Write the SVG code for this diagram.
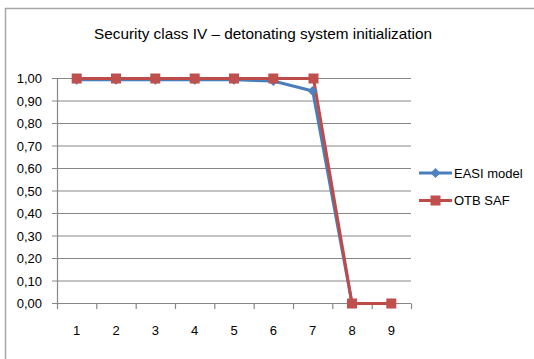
<svg xmlns="http://www.w3.org/2000/svg" width="534" height="359" viewBox="0 0 534 359">
<defs>
<style>
.t{font-family:"Liberation Sans",Arial,sans-serif;fill:#000;}
.ax{font-size:13px;}
.grid{stroke:#878787;stroke-width:1.2;fill:none;}
.blue{stroke:#4A7EBB;stroke-width:3;fill:none;stroke-linejoin:round;}
.red{stroke:#BE4B48;stroke-width:3;fill:none;stroke-linejoin:round;}
.sq{fill:#C0504D;}
.dm{fill:#4F81BD;}
</style>
<path id="diamond" d="M0,-5 L5,0 L0,5 L-5,0 Z"/>
</defs>
<rect x="0" y="0" width="534" height="359" fill="#fff"/>
<path d="M5.5,370 V8.5 H545" fill="none" stroke="#a6a6a6" stroke-width="1.5"/>
<text class="t" x="263" y="38.5" font-size="14.5" text-anchor="middle" textLength="338" lengthAdjust="spacingAndGlyphs">Security class IV – detonating system initialization</text>
<g id="grid">
<path class="grid" d="M52,78.5H411M52,101H411M52,123.5H411M52,146H411M52,168.5H411M52,191H411M52,213.5H411M52,236H411M52,258.5H411M52,281H411M52,303.5H411"/>
<path class="grid" d="M57.5,78.5V309M96.8,303.5V309M136.2,303.5V309M175.5,303.5V309M214.8,303.5V309M254.2,303.5V309M293.5,303.5V309M332.8,303.5V309M372.2,303.5V309M411.5,303.5V309"/>
</g>
<g id="yaxis" class="t ax" text-anchor="end">
<text x="42" y="83">1,00</text>
<text x="42" y="105.5">0,90</text>
<text x="42" y="128">0,80</text>
<text x="42" y="150.5">0,70</text>
<text x="42" y="173">0,60</text>
<text x="42" y="195.5">0,50</text>
<text x="42" y="218">0,40</text>
<text x="42" y="240.5">0,30</text>
<text x="42" y="263">0,20</text>
<text x="42" y="285.5">0,10</text>
<text x="42" y="308">0,00</text>
</g>
<g id="xaxis" class="t ax" text-anchor="middle">
<text x="76.7" y="334.5">1</text>
<text x="116" y="334.5">2</text>
<text x="155.3" y="334.5">3</text>
<text x="194.7" y="334.5">4</text>
<text x="234" y="334.5">5</text>
<text x="273.3" y="334.5">6</text>
<text x="312.7" y="334.5">7</text>
<text x="352" y="334.5">8</text>
<text x="391.3" y="334.5">9</text>
</g>
<g id="connectors">
<polyline id="easi-line" class="blue" points="76.7,79.8 116,79.8 155.3,79.8 194.7,79.8 234,79.8 273.3,81 312.7,91 352,303.5 391.3,303.5"/>
<polyline id="otb-line" class="red" points="76.7,78.5 116,78.5 155.3,78.5 194.7,78.5 234,78.5 273.3,78.5 313.5,78.5 352,303.5 391.3,303.5"/>
</g>
<g id="easi-markers" class="dm">
<use href="#diamond" x="76.7" y="79.8"/>
<use href="#diamond" x="116" y="79.8"/>
<use href="#diamond" x="155.3" y="79.8"/>
<use href="#diamond" x="194.7" y="79.8"/>
<use href="#diamond" x="234" y="79.8"/>
<use href="#diamond" x="273.3" y="81"/>
<use href="#diamond" x="312.7" y="91"/>
<use href="#diamond" x="352" y="303.5"/>
<use href="#diamond" x="391.3" y="303.5"/>
</g>
<g id="otb-markers" class="sq">
<rect x="71.7" y="73.5" width="10" height="10"/>
<rect x="111" y="73.5" width="10" height="10"/>
<rect x="150.3" y="73.5" width="10" height="10"/>
<rect x="189.7" y="73.5" width="10" height="10"/>
<rect x="229" y="73.5" width="10" height="10"/>
<rect x="268.3" y="73.5" width="10" height="10"/>
<rect x="308.5" y="73.5" width="10" height="10"/>
<rect x="347" y="298.5" width="10" height="10"/>
<rect x="386.3" y="298.5" width="10" height="10"/>
</g>
<g id="legend-easi">
<path class="blue" d="M419,173H452"/>
<use href="#diamond" x="435.5" y="173" class="dm"/>
<text class="t ax" x="454" y="177.5">EASI model</text>
</g>
<g id="legend-otb">
<path class="red" d="M419,200.5H452"/>
<rect x="430.5" y="195.5" width="10" height="10" class="sq"/>
<text class="t ax" x="454" y="205">OTB SAF</text>
</g>
</svg>
